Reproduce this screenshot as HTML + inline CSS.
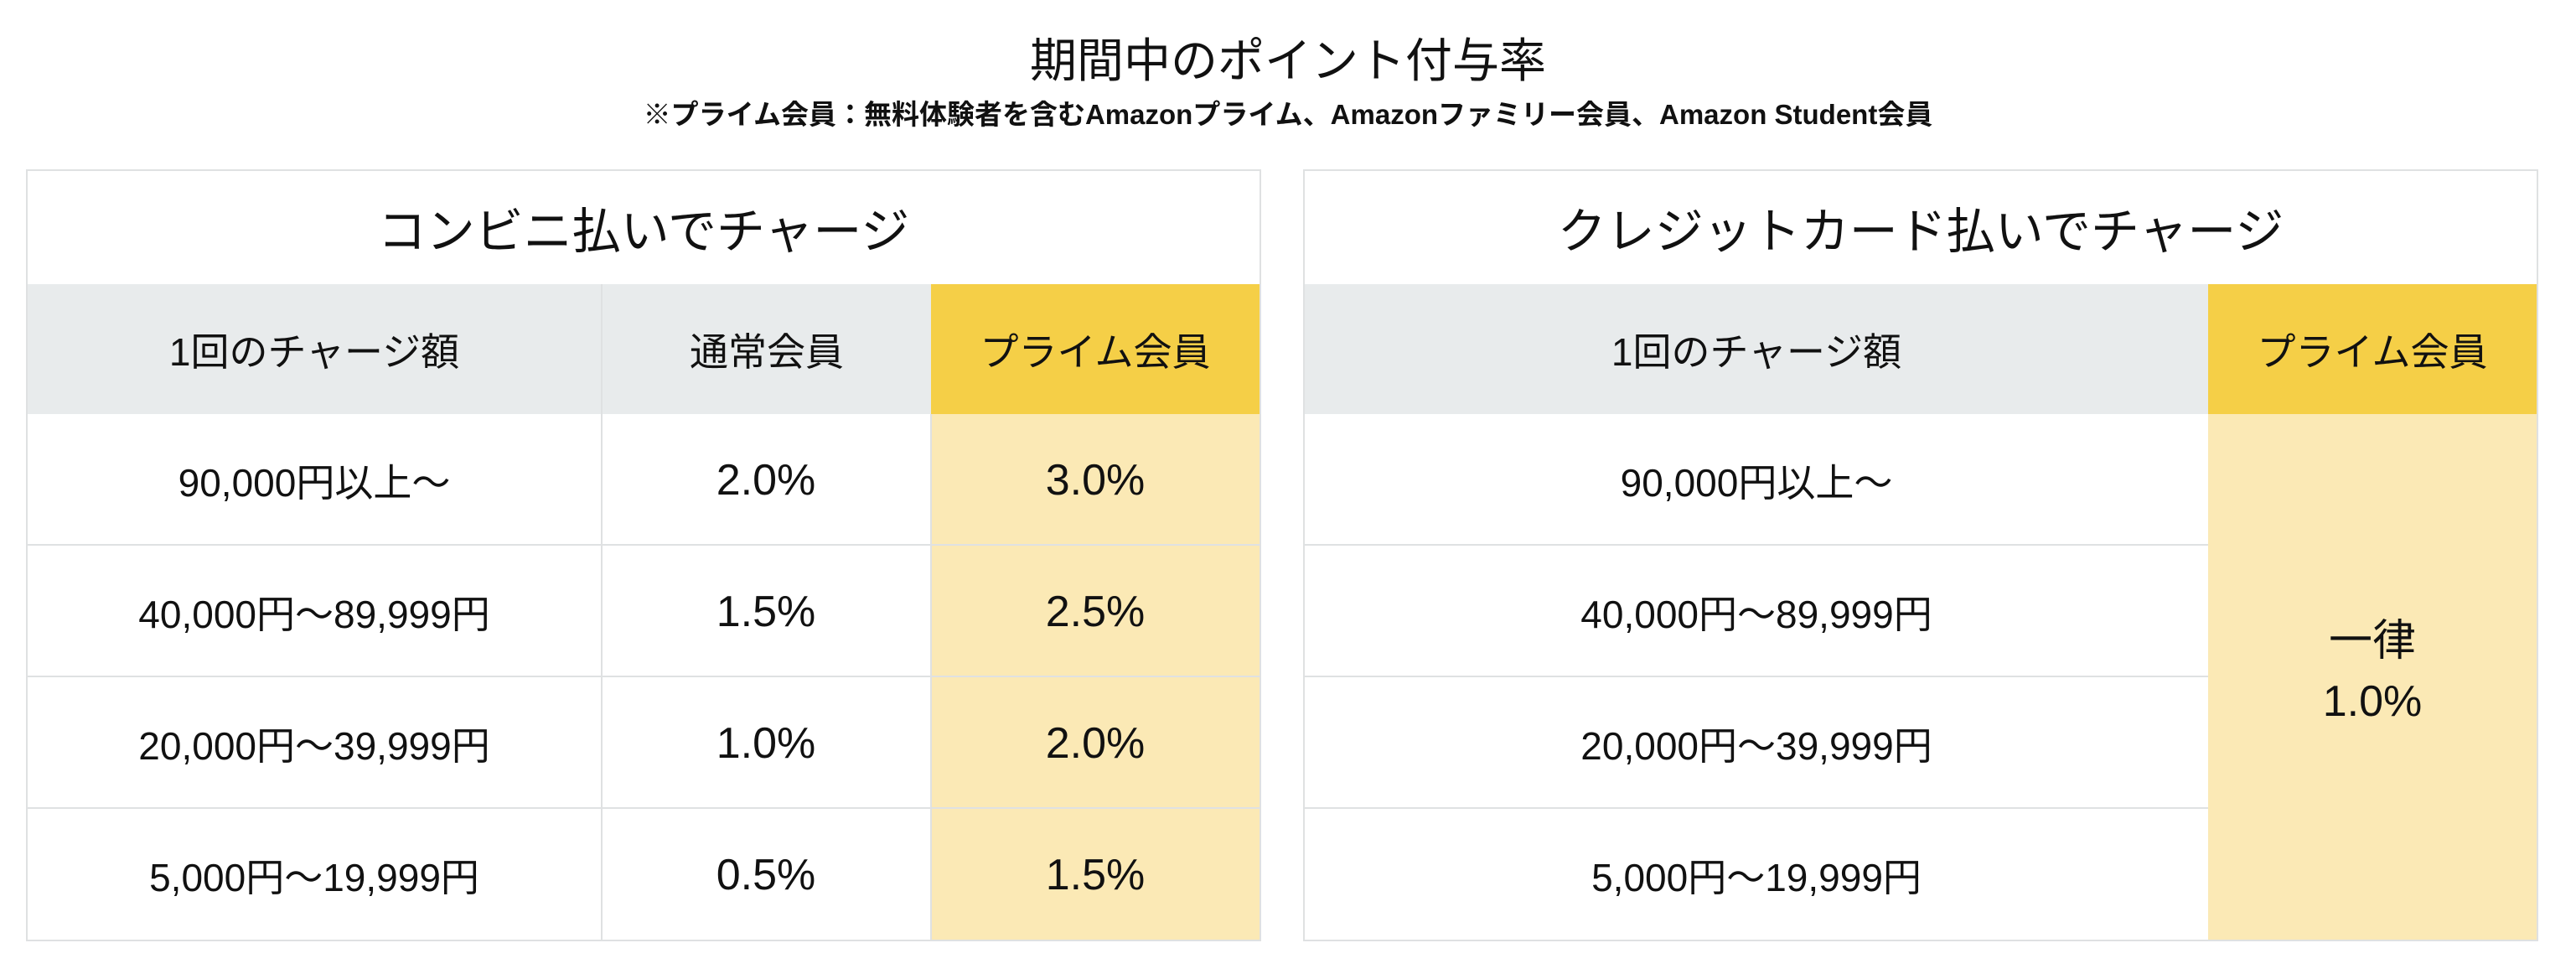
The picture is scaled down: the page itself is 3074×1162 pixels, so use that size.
<!DOCTYPE html>
<html><head><meta charset="utf-8">
<style>
body{margin:0;width:3074px;height:1162px;background:#fff;position:relative;overflow:hidden;font-family:"Liberation Sans","Noto Sans CJK JP",sans-serif;color:#111}
.a{position:absolute;display:flex;align-items:center;justify-content:center;box-sizing:border-box;text-align:center}
.t{font-size:58px}
.h{font-size:46px;background:#e8ebec}
.p{background:#f5cf47}
.lp{background:#fbe9b5}
.c{font-size:46px}
.v{font-size:52px}
.bd{border:2px solid #dfe1e2}
</style></head><body>
<div class="a" style="left:0;width:3074px;top:38px;height:60px;font-size:56px">期間中のポイント付与率</div>
<div class="a" style="left:0;width:3074px;top:114px;height:40px;font-size:33px;font-weight:bold">※プライム会員：無料体験者を含むAmazonプライム、Amazonファミリー会員、Amazon Student会員</div>

<div>
<div class="a bd" style="left:31px;top:202px;width:1474px;height:921px"></div>
<div class="a t" style="left:31px;top:202px;width:1474px;height:137px">コンビニ払いでチャージ</div>
<div class="a h" style="left:33px;top:339px;width:684px;height:155px">1回のチャージ額</div>
<div class="a h" style="left:717px;top:339px;width:394px;height:155px;border-left:2px solid #dfe1e2">通常会員</div>
<div class="a h p" style="left:1111px;top:339px;width:392px;height:155px">プライム会員</div>
<div class="a lp" style="left:1111px;top:494px;width:392px;height:627px"></div>
<div class="a" style="left:33px;top:494px;width:1470px;height:157px;border-bottom:2px solid #dfe1e2"></div>
<div class="a" style="left:33px;top:651px;width:1470px;height:157px;border-bottom:2px solid #dfe1e2"></div>
<div class="a" style="left:33px;top:808px;width:1470px;height:157px;border-bottom:2px solid #dfe1e2"></div>
<div class="a" style="left:717px;top:494px;width:2px;height:627px;background:#dfe1e2"></div>
<div class="a" style="left:1110px;top:494px;width:2px;height:627px;background:#dfe1e2"></div>
<div class="a c" style="left:33px;top:494px;width:684px;height:157px">90,000円以上～</div>
<div class="a v" style="left:717px;top:494px;width:394px;height:157px">2.0%</div>
<div class="a v" style="left:1111px;top:494px;width:392px;height:157px">3.0%</div>
<div class="a c" style="left:33px;top:651px;width:684px;height:157px">40,000円～89,999円</div>
<div class="a v" style="left:717px;top:651px;width:394px;height:157px">1.5%</div>
<div class="a v" style="left:1111px;top:651px;width:392px;height:157px">2.5%</div>
<div class="a c" style="left:33px;top:808px;width:684px;height:157px">20,000円～39,999円</div>
<div class="a v" style="left:717px;top:808px;width:394px;height:157px">1.0%</div>
<div class="a v" style="left:1111px;top:808px;width:392px;height:157px">2.0%</div>
<div class="a c" style="left:33px;top:965px;width:684px;height:157px">5,000円～19,999円</div>
<div class="a v" style="left:717px;top:965px;width:394px;height:157px">0.5%</div>
<div class="a v" style="left:1111px;top:965px;width:392px;height:157px">1.5%</div>
</div>

<div>
<div class="a bd" style="left:1555px;top:202px;width:1474px;height:921px"></div>
<div class="a t" style="left:1555px;top:202px;width:1474px;height:137px">クレジットカード払いでチャージ</div>
<div class="a h" style="left:1557px;top:339px;width:1078px;height:155px">1回のチャージ額</div>
<div class="a h p" style="left:2635px;top:339px;width:392px;height:155px">プライム会員</div>
<div class="a" style="left:1557px;top:494px;width:1078px;height:157px;border-bottom:2px solid #dfe1e2"></div>
<div class="a" style="left:1557px;top:651px;width:1078px;height:157px;border-bottom:2px solid #dfe1e2"></div>
<div class="a" style="left:1557px;top:808px;width:1078px;height:157px;border-bottom:2px solid #dfe1e2"></div>
<div class="a c" style="left:1557px;top:494px;width:1078px;height:157px">90,000円以上～</div>
<div class="a c" style="left:1557px;top:651px;width:1078px;height:157px">40,000円～89,999円</div>
<div class="a c" style="left:1557px;top:808px;width:1078px;height:157px">20,000円～39,999円</div>
<div class="a c" style="left:1557px;top:965px;width:1078px;height:157px">5,000円～19,999円</div>
<div class="a v lp" style="left:2635px;top:494px;width:392px;height:627px;flex-direction:column;line-height:72px;padding-bottom:14px">一律<br>1.0%</div>
</div>
</body></html>
